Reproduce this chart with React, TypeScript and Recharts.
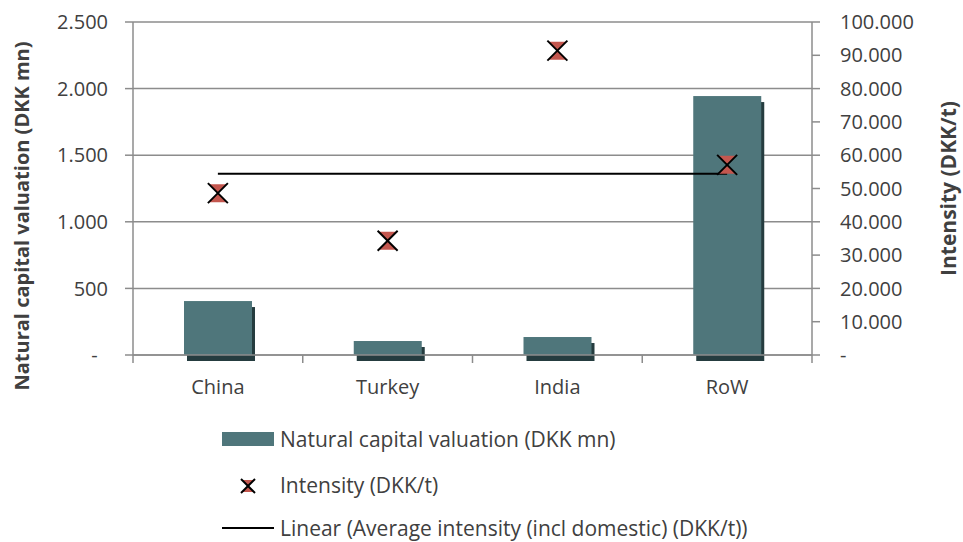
import React from 'react';
import { ComposedChart, Bar, Scatter, Line, XAxis, YAxis, CartesianGrid } from 'recharts';

const categories = ['China', 'Turkey', 'India', 'RoW'];
const valuation = [405, 105, 135, 1944];
const intensity = [48600, 34300, 91400, 57100];
const averageIntensity = [54400, 54400, 54400, 54400];
const leftTicks = [0, 500, 1000, 1500, 2000, 2500];
const rightTicks = [0, 10000, 20000, 30000, 40000, 50000, 60000, 70000, 80000, 90000, 100000];

const data = categories.map((name, i) => ({
  name,
  valuation: valuation[i],
  intensity: intensity[i],
  trend: averageIntensity[i],
}));

const FONT = '"Open Sans", sans-serif';
const GRID = '#8c8c8c';
const TEXT = '#404040';
const BAR = '#4f767b';
const SHADOW = '#253c3f';
const RED = '#c4574f';

const fmt = (v: number) => (v === 0 ? '-' : String(v).replace(/\B(?=(\d{3})+(?!\d))/g, '.'));

function ShadowBar(props: any) {
  const { x, y, width, height } = props;
  if (!height) return null;
  return (
    <g>
      <rect x={x + 3} y={y + 6} width={width} height={height} fill={SHADOW} />
      <rect x={x} y={y} width={width} height={height} fill={BAR} />
    </g>
  );
}

// hourglass-filled X marker, like the Excel one
function CrossMarker({ cx, cy, half }: any) {
  const s = half || 10;
  return (
    <g>
      <polygon points={`${cx - s + 1},${cy - s + 1} ${cx + s - 1},${cy - s + 1} ${cx},${cy}`} fill={RED} />
      <polygon points={`${cx - s + 1},${cy + s - 1} ${cx + s - 1},${cy + s - 1} ${cx},${cy}`} fill={RED} />
      <line x1={cx - s} y1={cy - s} x2={cx + s} y2={cy + s} stroke="#000" strokeWidth={2} />
      <line x1={cx - s} y1={cy + s} x2={cx + s} y2={cy - s} stroke="#000" strokeWidth={2} />
    </g>
  );
}

function CategoryTick(props: any) {
  const { x, y, payload, width, visibleTicksCount, index } = props;
  const band = payload && payload.offset ? payload.offset * 2 : width / visibleTicksCount;
  const axisY = y - 8;
  return (
    <g>
      <line x1={x - band / 2} y1={axisY} x2={x - band / 2} y2={axisY + 8} stroke={GRID} strokeWidth={1.5} />
      {index === visibleTicksCount - 1 && (
        <line x1={x + band / 2} y1={axisY} x2={x + band / 2} y2={axisY + 8} stroke={GRID} strokeWidth={1.5} />
      )}
      <text x={x} y={axisY + 39} textAnchor="middle" fill={TEXT} fontSize={20} fontFamily={FONT}>
        {payload.value}
      </text>
    </g>
  );
}

const LeftTitle = ({ viewBox }: any) => (
  <text
    x={viewBox.x + 13}
    y={216}
    transform={`rotate(-90, ${viewBox.x + 13}, 216)`}
    textAnchor="middle"
    dominantBaseline="central"
    fontFamily={FONT}
    fontWeight="bold"
    fontSize={20}
    fill={TEXT}
  >
    Natural capital valuation (DKK mn)
  </text>
);

const RightTitle = ({ viewBox }: any) => {
  const cx = viewBox.x + viewBox.width - 15;
  const cy = viewBox.y + viewBox.height / 2;
  return (
    <text
      x={cx}
      y={cy}
      transform={`rotate(-90, ${cx}, ${cy})`}
      textAnchor="middle"
      dominantBaseline="central"
      fontFamily={FONT}
      fontWeight="bold"
      fontSize={21}
      fill={TEXT}
    >
      Intensity (DKK/t)
    </text>
  );
};

export default function App() {
  return (
    <div style={{ position: 'fixed', left: 0, top: 0, width: 963, height: 542, background: '#fff' }}>
      <ComposedChart
        width={963}
        height={542}
        data={data}
        margin={{ top: 22, right: 0, bottom: 147, left: 8 }}
      >
        <CartesianGrid yAxisId="left" vertical={false} stroke={GRID} strokeWidth={1.5} ticks={leftTicks as any} />
        <XAxis
          dataKey="name"
          height={40}
          axisLine={{ stroke: GRID, strokeWidth: 1.5 }}
          tickLine={false}
          tickSize={8}
          tickMargin={0}
          tick={<CategoryTick />}
          interval={0}
        />
        <YAxis
          yAxisId="left"
          width={125}
          domain={[0, 2500]}
          ticks={leftTicks}
          interval={0}
          tickFormatter={(v: number) => (v === 0 ? '-\u00a0\u00a0' : fmt(v))}
          axisLine={{ stroke: GRID, strokeWidth: 1.5 }}
          tickLine={{ stroke: GRID, strokeWidth: 1.5 }}
          tickSize={8}
          tickMargin={17}
          tick={{ fill: TEXT, fontSize: 20, fontFamily: FONT }}
          label={<LeftTitle />}
        />
        <YAxis
          yAxisId="right"
          orientation="right"
          width={151}
          domain={[0, 100000]}
          ticks={rightTicks}
          interval={0}
          tickFormatter={fmt}
          axisLine={{ stroke: GRID, strokeWidth: 1.5 }}
          tickLine={{ stroke: GRID, strokeWidth: 1.5 }}
          tickSize={8}
          tickMargin={20}
          tick={{ fill: TEXT, fontSize: 20, fontFamily: FONT }}
          label={<RightTitle />}
        />
        <Bar yAxisId="left" dataKey="valuation" barSize={68} shape={<ShadowBar />} isAnimationActive={false} />
        <Line
          yAxisId="right"
          dataKey="trend"
          stroke="#000"
          strokeWidth={2}
          dot={false}
          activeDot={false}
          isAnimationActive={false}
        />
        <Scatter
          yAxisId="right"
          dataKey="intensity"
          shape={(p: any) => <CrossMarker cx={p.cx} cy={p.cy} half={10} />}
          isAnimationActive={false}
        />
      </ComposedChart>
      <div style={{ position: 'absolute', left: 0, top: 0, width: 963, height: 542, pointerEvents: 'none' }}>
        <svg width={963} height={542} style={{ position: 'absolute', left: 0, top: 0 }}>
          <rect x={222} y={432} width={52} height={14} fill={BAR} />
          <CrossMarker cx={248} cy={486} half={7} />
          <line x1={222} y1={528} x2={274} y2={528} stroke="#000" strokeWidth={2} />
          <g fontFamily={FONT} fontSize={21} fill={TEXT} dominantBaseline="central">
            <text x={280} y={439}>Natural capital valuation (DKK mn)</text>
            <text x={280} y={485}>Intensity (DKK/t)</text>
            <text x={280} y={528}>Linear (Average intensity (incl domestic) (DKK/t))</text>
          </g>
        </svg>
      </div>
    </div>
  );
}
